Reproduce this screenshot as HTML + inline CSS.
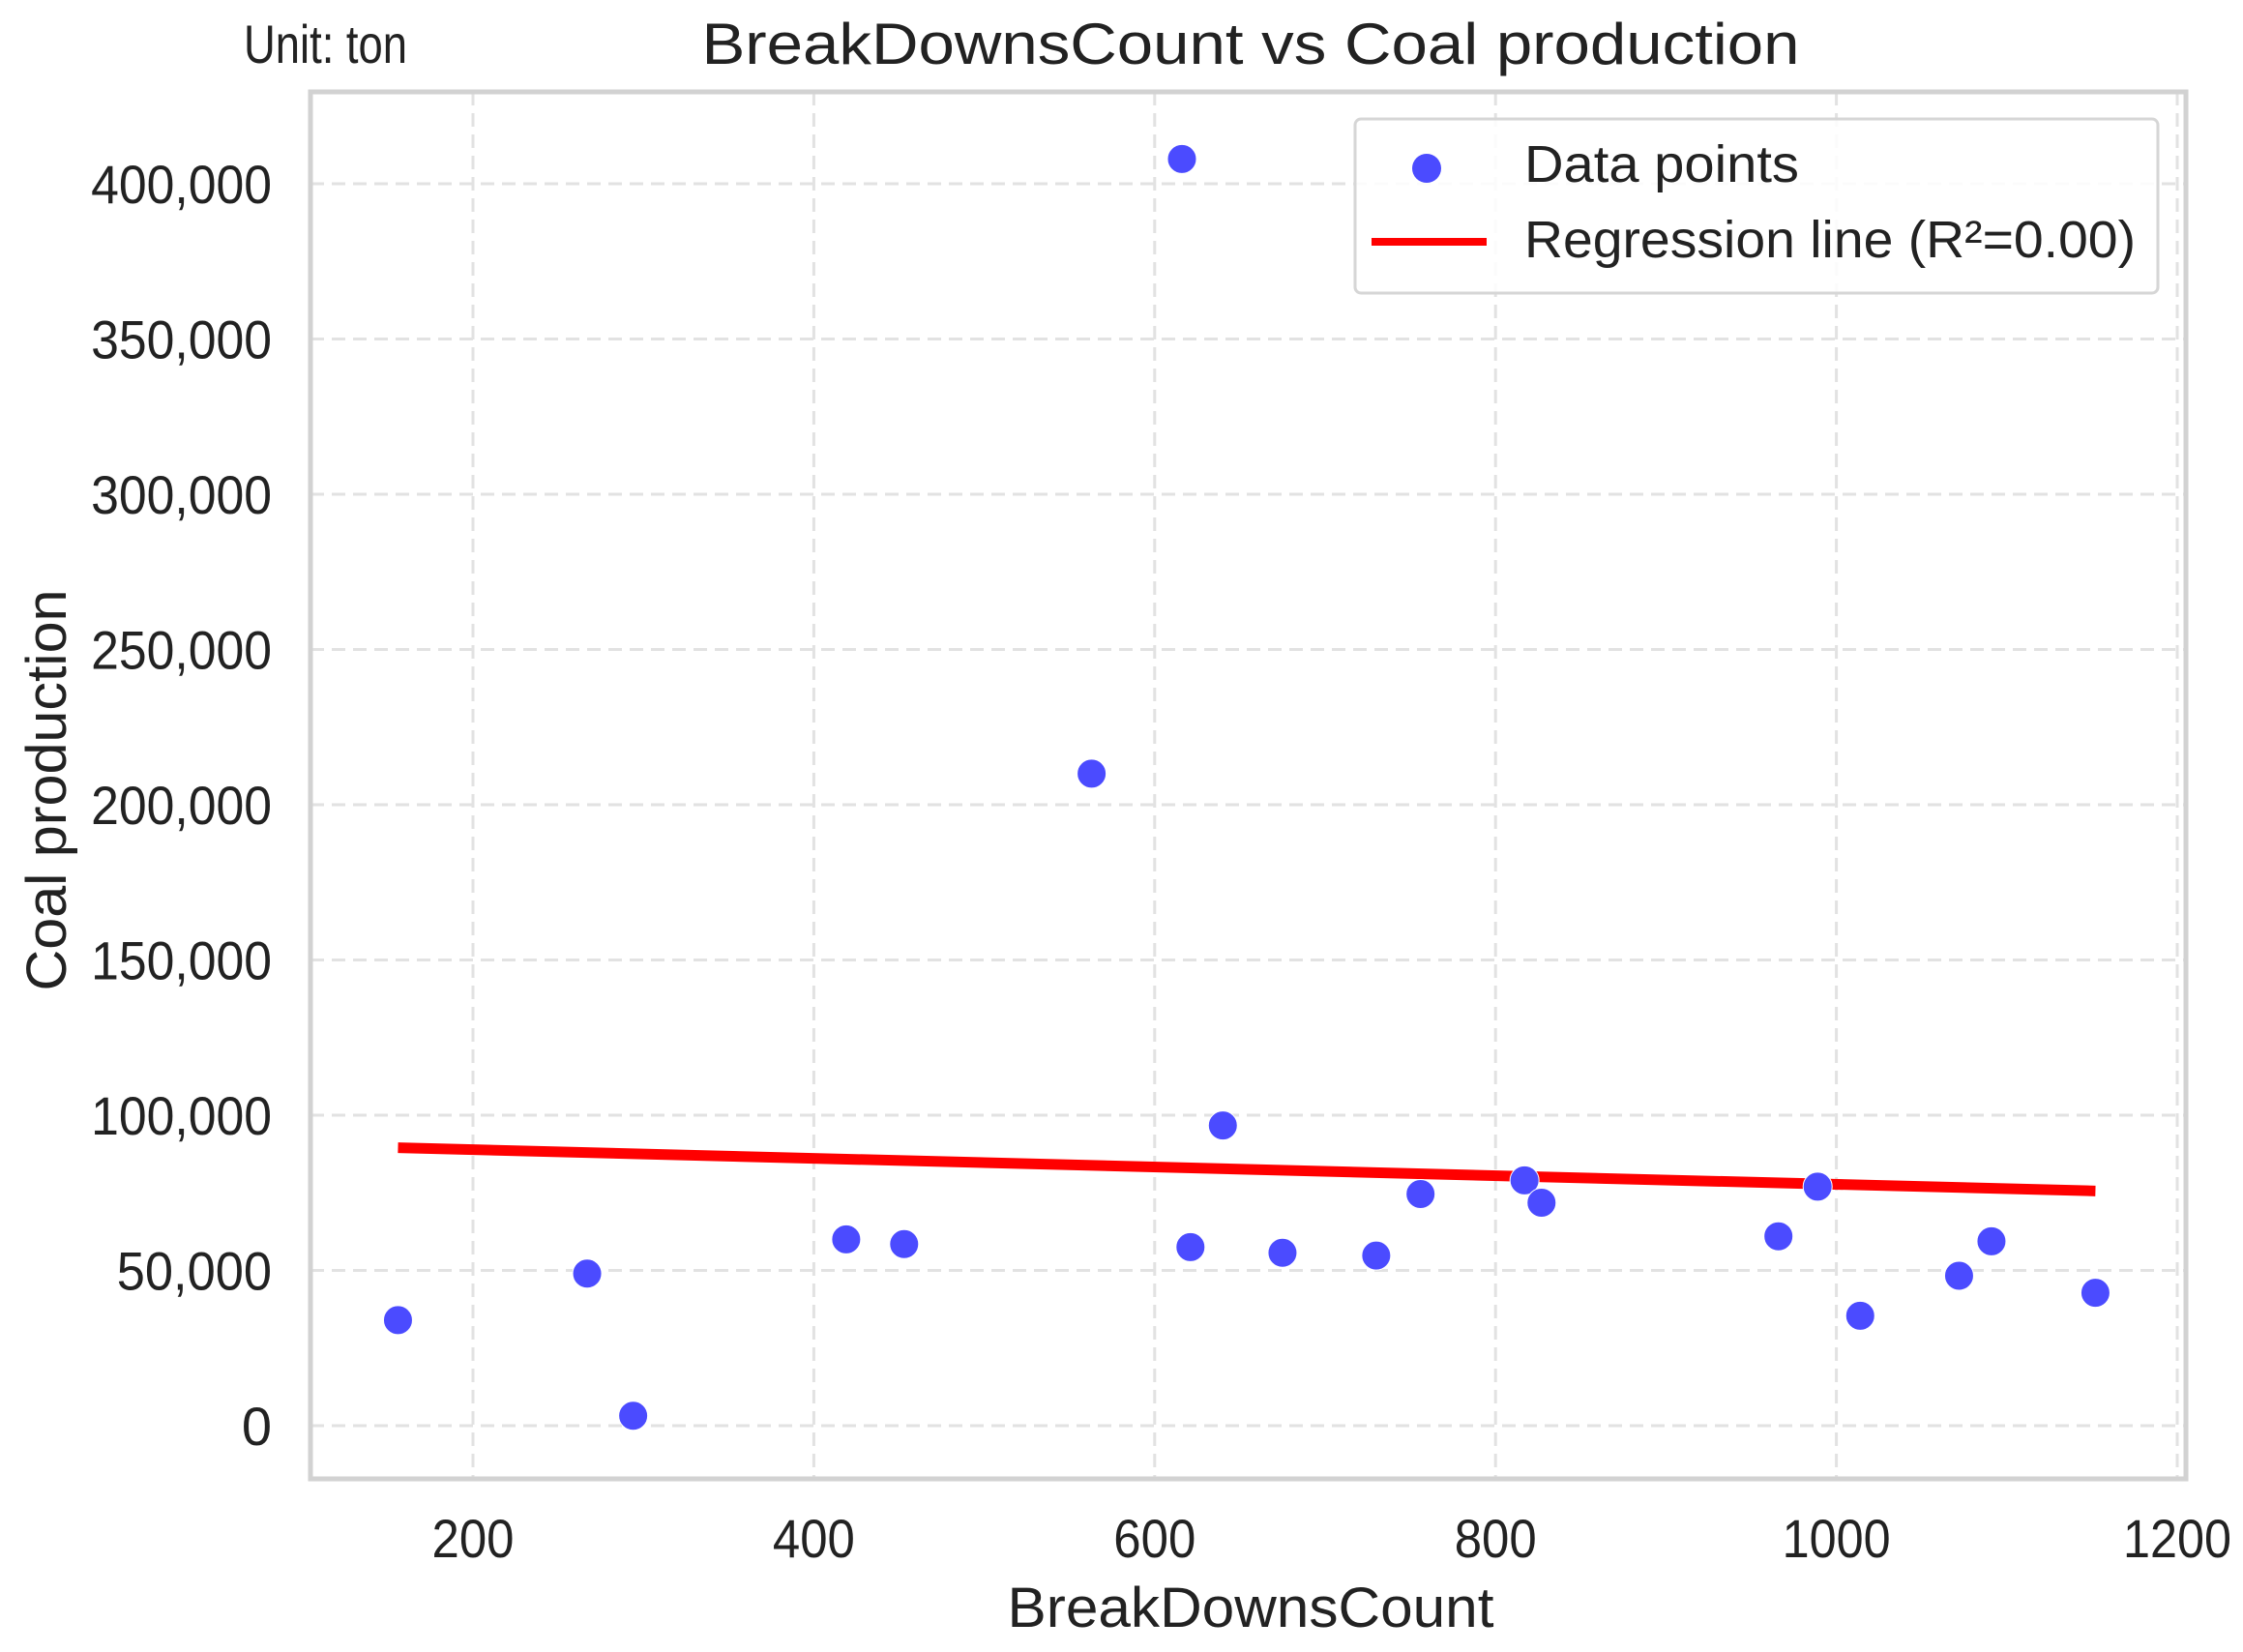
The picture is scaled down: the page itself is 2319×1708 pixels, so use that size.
<!DOCTYPE html>
<html><head><meta charset="utf-8"><style>
html,body{margin:0;padding:0;background:#fff}
svg{display:block}
text{font-family:"Liberation Sans",Arial,sans-serif;fill:#222}
</style></head><body>
<svg id="chart" width="2319" height="1708" viewBox="0 0 2319 1708">
<g id="grid"></g>
<rect x="321" y="95" width="1939" height="1434" fill="none" stroke="#d2d2d2" stroke-width="5"/>
<g id="xticks"></g>
<g id="yticks"></g>
<g id="reg"></g>
<g id="pts"></g>
<text x="252" y="65" font-size="56" textLength="169" lengthAdjust="spacingAndGlyphs">Unit: ton</text>
<text x="1293" y="66" font-size="60" text-anchor="middle" textLength="1135" lengthAdjust="spacingAndGlyphs">BreakDownsCount vs Coal production</text>
<text x="1293" y="1682" font-size="58" text-anchor="middle" textLength="503" lengthAdjust="spacingAndGlyphs">BreakDownsCount</text>
<text transform="translate(68,817) rotate(-90)" font-size="58" text-anchor="middle" textLength="415" lengthAdjust="spacingAndGlyphs">Coal production</text>
<g>
<rect x="1401" y="123" width="830" height="180" rx="6" fill="#fff" fill-opacity="0.85" stroke="#d6d6d6" stroke-width="3"/>
<ellipse cx="1475" cy="174" rx="15" ry="15" fill="#4b4bff"/>
<text x="1576" y="188" font-size="54" textLength="284" lengthAdjust="spacingAndGlyphs">Data points</text>
<line x1="1418" y1="250" x2="1537" y2="250" stroke="#ff0000" stroke-width="8"/>
<text x="1576" y="266" font-size="54" textLength="632" lengthAdjust="spacingAndGlyphs">Regression line (R²=0.00)</text>
</g>
</svg>
<script>
const xTicks = [200, 400, 600, 800, 1000, 1200];
const yTicks = [0, 50000, 100000, 150000, 200000, 250000, 300000, 350000, 400000];
const breakdowns = [156, 267, 294, 419, 453, 563, 616, 621, 640, 675, 730, 756, 817, 827, 966, 989, 1014, 1072, 1091, 1152];
const production = [34000, 49000, 3200, 60000, 58500, 210000, 408000, 57500, 96700, 55700, 54800, 74600, 79000, 71800, 61000, 77000, 35400, 48300, 59400, 42800];

const NS = 'http://www.w3.org/2000/svg';
const X = v => 489 + (v - 200) * 1.762;
const Y = v => 1474 - v * 0.00321;
const L = 321, R = 2260, T = 95, B = 1529;
function mk(tag, attrs, parent) {
  const e = document.createElementNS(NS, tag);
  for (const k in attrs) e.setAttribute(k, attrs[k]);
  parent.appendChild(e);
  return e;
}
const grid = document.getElementById('grid');
const xg = document.getElementById('xticks');
const yg = document.getElementById('yticks');
xTicks.forEach(t => {
  const ln = mk('line', {x1: X(t), x2: X(t), y1: T, y2: B, stroke: '#e2e2e2', 'stroke-width': 3, 'stroke-dasharray': '14 8'}, grid);
  
  
  const tx = mk('text', {x: X(t), y: 1610, 'font-size': 56, 'text-anchor': 'middle', textLength: t >= 1000 ? 112 : 85, lengthAdjust: 'spacingAndGlyphs'}, xg);
  tx.textContent = t;
  
  
});
yTicks.forEach(t => {
  const ln = mk('line', {x1: L, x2: R, y1: Y(t), y2: Y(t), stroke: '#e2e2e2', 'stroke-width': 3, 'stroke-dasharray': '14 8'}, grid);
  
  
  const s = t.toLocaleString('en-US');
  const attrs = {x: 281, y: Y(t) + 20, 'font-size': 56, 'text-anchor': 'end'};
  if (s.length > 1) { attrs.textLength = s.length * 26.7; attrs.lengthAdjust = 'spacingAndGlyphs'; }
  const tx = mk('text', attrs, yg);
  tx.textContent = s;
  
  
});
const n = breakdowns.length;
const mx = breakdowns.reduce((a, b) => a + b, 0) / n;
const my = production.reduce((a, b) => a + b, 0) / n;
let sxy = 0, sxx = 0;
for (let i = 0; i < n; i++) { sxy += (breakdowns[i] - mx) * (production[i] - my); sxx += (breakdowns[i] - mx) ** 2; }
const slope = sxy / sxx, icpt = my - slope * mx;
const x0 = Math.min(...breakdowns), x1 = Math.max(...breakdowns);
const rl = mk('line', {x1: X(x0), y1: Y(icpt + slope * x0), x2: X(x1), y2: Y(icpt + slope * x1), stroke: '#ff0000', 'stroke-width': 11}, document.getElementById('reg'));


const pg = document.getElementById('pts');
for (let i = 0; i < n; i++) {
  const c = mk('circle', {cx: X(breakdowns[i]), cy: Y(production[i]), r: 15, fill: '#4b4bff', stroke: '#fff', 'stroke-width': 1}, pg);
  
  
}
</script>
</body></html>
